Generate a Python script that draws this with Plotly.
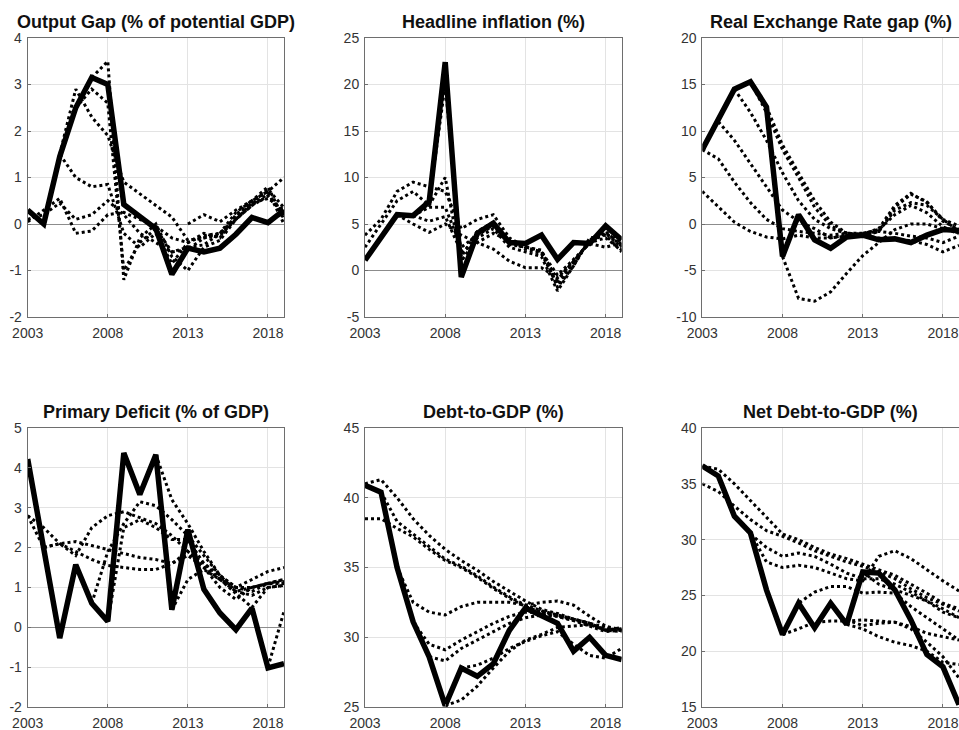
import plotly.graph_objects as go

years = list(range(2003, 2020))
N = None

# ---------------- Output gap ----------------
og_actual = [0.3, 0.0, 1.45, 2.5, 3.15, 3.0, 0.42, 0.15, -0.1, -1.08, -0.52, -0.6, -0.52, -0.22, 0.14, 0.03, 0.3]
og_paths = [
    [0.05, 0.3, 0.55, -0.2, -0.15, 0.2, 0.25, 0.1, -0.05, -0.3, -0.4, -0.25, -0.2, 0.1, 0.4, 0.65, 0.2],
    [0.1, 0.2, 0.45, 0.1, 0.2, 0.5, 0.2, -0.2, -0.4, -0.6, -0.55, -0.3, -0.2, 0.15, 0.45, 0.75, 0.35],
    [N, 0.0, 1.5, 1.0, 0.8, 0.85, -0.2, -0.5, -0.2, -0.85, -0.4, -0.2, -0.3, 0.2, 0.5, 0.8, 0.1],
    [N, N, 1.5, 2.9, 2.3, 1.9, 0.9, 0.65, 0.4, 0.15, -0.35, -0.3, -0.25, 0.1, 0.4, 0.6, 0.2],
    [N, N, N, 2.5, 2.9, 2.6, -1.0, -0.4, -0.1, -0.6, -0.5, -0.45, -0.2, 0.25, 0.5, 0.7, 0.0],
    [N, N, N, N, 3.15, 3.5, -1.2, -0.3, 0.0, -0.7, -1.0, -0.5, -0.35, 0.1, 0.45, 0.55, 0.3],
    [N, N, N, N, N, N, N, N, N, N, 0.0, 0.2, 0.05, 0.3, 0.5, 0.7, 1.0],
]

# ---------------- Headline inflation ----------------
inf_actual = [1.1, 3.6, 6.0, 5.9, 7.4, 22.4, -0.7, 4.0, 5.1, 3.0, 2.9, 3.8, 1.2, 3.0, 2.9, 4.8, 3.3]
inf_paths = [
    [3.8, 5.5, 8.5, 9.5, 9.0, 8.5, 4.5, 5.5, 6.0, 3.5, 2.5, 2.0, -1.0, 1.0, 3.0, 4.0, 2.5],
    [2.5, 5.0, 7.5, 8.5, 7.0, 10.0, 1.0, 3.5, 4.5, 2.5, 2.0, 1.5, -2.2, 0.5, 3.5, 3.8, 2.0],
    [N, N, 6.0, 5.0, 4.1, 5.0, 3.8, 3.0, 2.3, 1.0, 0.3, 0.3, -0.8, 1.0, 3.0, 3.5, 2.2],
    [N, N, N, 5.9, 5.3, 5.8, 2.0, 3.0, 4.0, 3.2, 2.3, 1.8, -1.5, 0.8, 3.2, 4.0, 3.0],
    [N, N, N, 5.9, 6.8, 6.8, 2.5, 3.8, 4.8, 3.0, 2.6, 2.0, -0.5, 1.2, 2.9, 2.5, 3.0],
    [N, N, N, N, 7.4, 20.0, 1.5, 4.2, 5.2, 2.8, 2.5, 2.2, -1.8, 0.5, 3.3, 4.2, 2.6],
]

# ---------------- Real exchange rate gap ----------------
rer_actual = [8.0, 11.2, 14.5, 15.3, 12.6, -3.5, 1.0, -1.7, -2.6, -1.4, -1.2, -1.7, -1.6, -2.0, -1.2, -0.6, -0.7]
rer_paths = [
    [3.5, 1.8, 0.2, -0.8, -1.4, -1.6, -1.2, -1.5, -1.5, -1.2, -1.2, -1.5, -1.6, -1.8, -2.2, -3.0, -2.3],
    [8.0, 7.0, 4.5, 2.3, 0.5, -0.5, -0.8, -1.0, -1.2, -1.0, -1.0, -0.8, -1.0, -1.3, -1.5, -2.0, -1.3],
    [N, 11.0, 9.0, 6.5, 4.0, 1.5, 0.3, -0.5, -1.5, -1.3, -1.0, -0.6, 1.0, 2.0, 1.2, -0.3, -1.0],
    [N, N, 14.5, 12.0, 9.0, 5.5, 2.5, 0.5, -0.5, -1.0, -1.3, -0.8, 1.5, 2.3, 2.0, 0.5, -0.8],
    [N, N, N, 15.3, 12.0, 8.0, 5.0, 1.8, -0.2, -1.0, -1.1, -0.5, 2.0, 3.3, 2.3, 0.5, -0.2],
    [N, N, N, N, 12.6, 8.5, 5.5, 2.5, 0.2, -1.0, -1.2, -0.8, 1.8, 3.2, 2.4, 0.3, -0.6],
    [N, N, N, N, N, -3.5, -8.0, -8.3, -7.3, -5.3, -3.4, -2.0, -0.6, 0.0, 0.0, -0.5, -1.0],
]

# ---------------- Primary deficit ----------------
pd_actual = [4.22, 2.0, -0.27, 1.57, 0.6, 0.15, 4.37, 3.33, 4.33, 0.44, 2.45, 0.95, 0.36, -0.06, 0.48, -1.02, -0.91]
pd_paths = [
    [2.8, 2.5, 2.1, 1.9, 1.7, 1.55, 1.5, 1.45, 1.45, 1.6, 1.8, 1.5, 1.2, 1.0, 1.2, 1.4, 1.5],
    [2.8, 2.0, 2.1, 2.15, 2.05, 1.95, 1.85, 1.75, 1.7, 1.6, 1.9, 1.6, 1.3, 1.0, 1.0, 1.1, 1.15],
    [N, 2.0, 2.1, 1.8, 2.5, 2.8, 2.9, 2.75, 2.6, 2.3, 1.9, 1.5, 1.0, 0.7, 1.0, 1.1, 1.1],
    [N, N, N, N, 0.6, 1.9, 2.6, 3.15, 3.05, 2.7, 2.3, 1.8, 1.3, 0.9, 0.8, 1.0, 1.05],
    [N, N, N, N, N, 0.15, 2.5, 2.7, 2.5, 2.2, 2.2, 1.6, 1.2, 0.9, 1.0, 1.1, 1.2],
    [N, N, N, N, N, N, N, N, 4.33, 3.2, 2.6, 1.9, 1.3, 1.0, 0.9, 1.1, 1.2],
    [N, N, N, N, N, N, N, N, N, 0.44, 1.2, 1.45, 1.2, 0.85, 0.5, 1.0, 1.05],
    [N, N, N, N, N, N, N, N, N, N, N, N, N, N, N, -1.0, 0.4],
]

# ---------------- Debt-to-GDP ----------------
debt_actual = [40.9, 40.4, 35.0, 31.1, 28.6, 25.1, 27.8, 27.2, 28.1, 30.5, 32.1, 31.6, 31.0, 29.0, 30.0, 28.7, 28.4]
debt_paths = [
    [41.0, 41.3, 40.0, 38.5, 37.3, 36.3, 35.5, 34.8, 34.0, 33.3, 32.6, 32.0, 31.7, 31.3, 31.0, 30.7, 30.6],
    [38.5, 38.5, 37.8, 37.2, 36.3, 35.5, 35.0, 34.3, 33.5, 32.8, 32.2, 31.8, 31.5, 31.2, 30.9, 30.6, 30.5],
    [N, 40.4, 38.3, 37.4, 36.5, 35.6, 35.1, 34.4, 33.6, 32.9, 32.3, 31.9, 31.6, 31.3, 31.0, 30.5, 30.7],
    [N, N, 35.0, 32.5, 31.8, 31.6, 32.2, 32.5, 32.5, 32.5, 32.3, 32.5, 32.6, 32.3, 31.5, 30.8, 30.5],
    [N, N, N, 31.1, 29.5, 29.1, 29.8, 30.4, 31.0, 31.5, 31.8, 31.8, 31.5, 31.3, 31.0, 30.5, 30.6],
    [N, N, N, N, 28.6, 28.3, 29.2, 29.8, 30.4, 31.0, 31.4, 31.6, 31.5, 31.2, 30.8, 30.4, 30.5],
    [N, N, N, N, N, 25.1, 25.5, 26.5, 27.8, 29.0, 29.8, 30.2, 30.7, 30.8, 30.9, 30.5, 30.4],
    [N, N, N, N, N, N, 27.8, 28.0, 28.5, 29.2, 29.7, 30.1, 30.4, 29.5, 28.7, 28.5, 29.2],
]

# ---------------- Net debt-to-GDP ----------------
ndebt_actual = [36.6, 35.7, 32.1, 30.6, 25.5, 21.5, 24.3, 22.1, 24.3, 22.4, 27.1, 27.0, 25.5, 22.8, 19.7, 18.6, 15.2]
ndebt_paths = [
    [35.0, 34.3, 33.0, 31.8, 30.8, 30.3, 29.7, 29.0, 28.5, 28.0, 27.6, 27.1, 26.5, 25.6, 24.8, 24.2, 23.6],
    [36.6, 36.3, 35.0, 33.5, 32.0, 30.5, 30.0, 29.3, 28.7, 28.3, 27.8, 27.3, 26.8, 26.0, 25.2, 24.3, 23.8],
    [N, N, 32.1, 30.5, 29.3, 28.5, 28.8, 28.5, 27.8, 27.0, 26.5, 26.5, 26.0, 25.3, 24.5, 23.8, 23.0],
    [N, N, N, 30.6, 28.0, 27.5, 27.7, 27.5, 27.0, 26.5, 26.3, 28.5, 29.0, 28.3, 27.3, 26.3, 25.4],
    [N, N, N, N, N, 21.5, 24.3, 25.3, 25.8, 25.8, 25.2, 25.3, 25.2, 24.0, 23.0, 22.0, 21.0],
    [N, N, N, N, N, 21.5, 22.0, 22.6, 22.7, 22.7, 22.8, 22.7, 22.6, 22.2, 21.6, 21.3, 21.0],
    [N, N, N, N, N, N, N, N, N, 22.4, 22.0, 21.3, 20.8, 20.5, 20.0, 19.0, 18.8],
    [N, N, N, N, N, N, N, N, N, 22.8, 22.3, 22.5, 22.6, 22.0, 20.8, 19.5, 17.6],
    [N, N, N, N, N, N, N, N, N, N, 27.1, 26.0, 25.5, 25.0, 24.5, 23.5, 23.0],
]

titles = ["Output Gap (% of potential GDP)", "Headline inflation (%)", "Real Exchange Rate gap (%)",
          "Primary Deficit (% of GDP)", "Debt-to-GDP (%)", "Net Debt-to-GDP (%)"]
actuals = [og_actual, inf_actual, rer_actual, pd_actual, debt_actual, ndebt_actual]
paths = [og_paths, inf_paths, rer_paths, pd_paths, debt_paths, ndebt_paths]
yranges = [(-2, 4), (-5, 25), (-10, 20), (-2, 5), (25, 45), (15, 40)]
ydticks = [1, 5, 5, 1, 5, 5]
xticks = [2003, 2008, 2013, 2018]

W, H = 959, 730
# the third column runs past the right edge of the picture, as in the reference
col_px = [(27.7, 284.0), (365.0, 621.7), (702.3, 959.0)]
row_px = [(38.0, 317.0), (428.0, 707.0)]

FONT = "Liberation Sans, Arial, Helvetica, sans-serif"
fig = go.Figure()
annotations = []
for i in range(6):
    r, c = divmod(i, 3)
    ax = "" if i == 0 else str(i + 1)
    x0, x1 = col_px[c]
    y0, y1 = row_px[r]
    xd = [x0 / W, min(x1 / W, 1.0)]
    yd = [1 - y1 / H, 1 - y0 / H]
    for p in paths[i]:
        fig.add_trace(go.Scatter(x=years, y=p, mode="lines", xaxis="x" + ax, yaxis="y" + ax,
                                 line=dict(color="black", width=3, dash="3px,3px"),
                                 showlegend=False, hoverinfo="skip", connectgaps=False))
    fig.add_trace(go.Scatter(x=years, y=actuals[i], mode="lines", xaxis="x" + ax, yaxis="y" + ax,
                             line=dict(color="black", width=5.5), showlegend=False))
    common = dict(showline=True, linecolor="#6e6e6e", linewidth=1, mirror=True,
                  showgrid=True, gridcolor="#e3e3e3", gridwidth=1, automargin=False,
                  ticks="inside", ticklen=3, tickcolor="#6e6e6e", ticklabeloverflow="allow",
                  tickfont=dict(family=FONT, size=14, color="#333333"))
    lo, hi = yranges[i]
    yt = list(range(lo, hi + 1, ydticks[i]))
    fig.layout["xaxis" + ax] = dict(domain=xd, range=[2003, 2019], tickvals=xticks,
                                    ticktext=[str(v) for v in xticks],
                                    anchor="y" + ax, zeroline=False, ticklabelstandoff=3, **common)
    fig.layout["yaxis" + ax] = dict(domain=yd, range=[lo, hi], tickvals=yt,
                                    ticktext=[str(v) for v in yt],
                                    anchor="x" + ax, zeroline=True, zerolinecolor="#8c8c8c",
                                    zerolinewidth=1.2, ticklabelstandoff=2, **common)
    annotations.append(dict(text="<b>" + titles[i] + "</b>", x=(x0 + x1) / 2 / W,
                            y=1 - (y0 - 16) / H, xref="paper", yref="paper",
                            xanchor="center", yanchor="middle", showarrow=False,
                            font=dict(family=FONT, size=18, color="#111111")))

fig.update_layout(width=W, height=H, margin=dict(l=0, r=0, t=0, b=0, autoexpand=False),
                  paper_bgcolor="white", plot_bgcolor="white",
                  annotations=annotations, showlegend=False)
fig.write_html("out.html", config={"displayModeBar": False},
               post_script="document.body.style.margin='0';document.body.style.overflow='hidden';")
